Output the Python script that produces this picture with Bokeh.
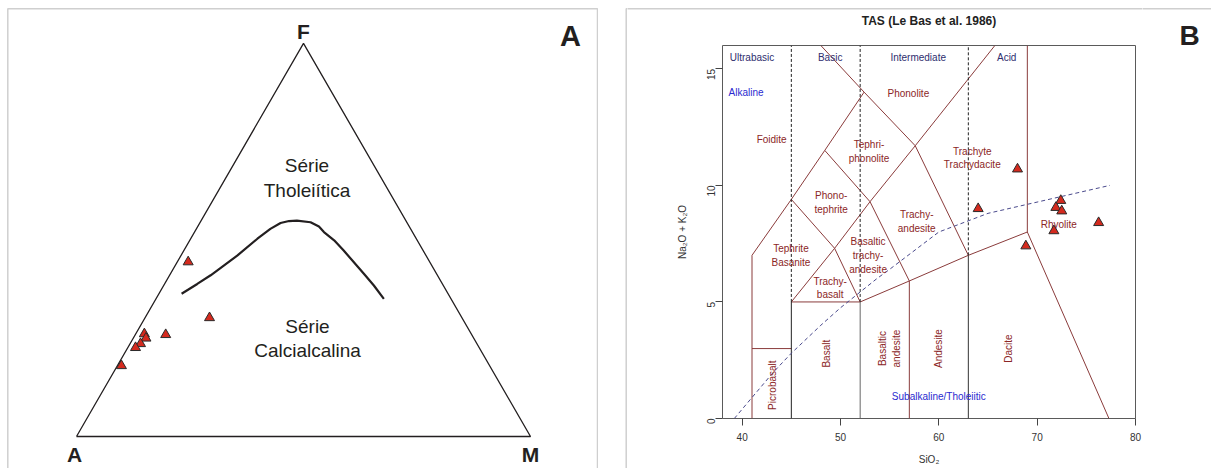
import math
from bokeh.plotting import figure
from bokeh.layouts import row, column
from bokeh.models import FixedTicker, ColumnDataSource
from bokeh.embed import file_html
from bokeh.resources import INLINE
from bokeh.core.properties import value

# ---------------- Panel A: AFM ternary data (A, F, M in %) ----------------
afm_A = [53.2, 55.6, 67.4, 72.0, 72.2, 74.1, 75.7, 81.1]
afm_F = [44.4, 30.2, 25.9, 26.1, 25.0, 23.6, 22.6, 18.0]
afm_M = [2.4, 14.2, 6.7, 1.9, 2.8, 2.3, 1.7, 0.9]

# Tholeiitic / calc-alkaline divide (F and M, A = 100 - F - M)
curve_F = [36.3, 38.8, 41.0, 46.0, 50.3, 52.8, 54.3, 54.8, 54.9, 54.5, 53.4, 52.0, 49.9, 47.3, 41.4, 38.4, 35.0]
curve_M = [5.0, 7.2, 9.05, 12.4, 14.7, 16.3, 17.8, 19.4, 21.1, 24.3, 26.7, 28.5, 31.8, 35.2, 42.6, 46.3, 50.2]

corner_names = ["A", "F", "M"]
series_names = ["Série\nTholeiítica", "Série\nCalcialcalina"]

# ---------------- Panel B: TAS data ----------------
sio2 = [68.0, 64.0, 72.4, 71.9, 72.5, 71.7, 76.25, 68.85]
alkalis = [10.7, 9.0, 9.35, 9.05, 8.9, 8.05, 8.4, 7.4]

# Le Bas et al. (1986) field boundaries (SiO2, Na2O+K2O)
tas_bound_x = [
    [41, 41, 45, 48.4, 52.4],
    [48.0, 52.4, 57.6, 63],
    [45, 49.4, 53, 57.6, 65.7],
    [45, 49.4, 52],
    [48.4, 53, 57],
    [41, 45],
    [45, 52],
    [52, 57, 63, 69, 77.3],
    [57, 57],
    [69, 69],
]
tas_bound_y = [
    [0, 7, 9.4, 11.5, 14],
    [16, 14, 11.7, 7],
    [5, 7.3, 9.3, 11.7, 16],
    [9.4, 7.3, 5],
    [11.5, 9.3, 5.9],
    [3, 3],
    [5, 5],
    [5, 5.9, 7, 8, 0],
    [0, 5.9],
    [8, 16],
]
silica_div_x = [45, 52, 63]
silica_div_low = [5, 5, 7]
silica_div_top = [16, 16, 16]
# Irvine & Baragar alkaline/subalkaline divide
ib_x = [39.2, 40, 43.2, 45, 48, 50, 53.7, 55, 60, 65, 77.4]
ib_y = [0, 0.4, 2, 2.8, 4, 4.75, 6, 6.4, 8, 8.8, 10]

tas_title = "TAS (Le Bas et al. 1986)"
field_names = ["Foidite", "Phonolite", "Tephri-\nphonolite", "Trachyte\nTrachydacite",
               "Phono-\ntephrite", "Trachy-\nandesite", "Tephrite\nBasanite",
               "Basaltic\ntrachy-\nandesite", "Trachy-\nbasalt", "Rhyolite"]
rot_field_names = ["Picrobasalt", "Basalt", "Basaltic\nandesite", "Andesite", "Dacite"]
silica_names = ["Ultrabasic", "Basic", "Intermediate", "Acid"]
alk_names = ["Alkaline", "Subalkaline/Tholeiitic"]

# label positions (layout)
field_lx = [43.0, 56.9, 52.9, 63.4, 49.05, 57.75, 44.96, 52.8, 48.95, 72.2]
field_ly = [11.95, 13.96, 11.45, 11.17, 9.26, 8.45, 6.98, 6.99, 5.6, 8.32]
rot_lx = [43.1, 48.6, 55.0, 60.0, 67.1]
rot_ly = [1.43, 2.78, 3.0, 3.0, 3.0]
silica_lx = [41.0, 48.95, 57.9, 66.9]
alk_lx = [40.4, 60.0]
alk_ly = [14.0, 0.95]

FNAME = "Liberation Sans"
FONT = value(FNAME)
DARK = "#231f20"
RED_FILL = "#d42a1e"
PANEL_BORDER = "#cfcfcf"

# ---------- page layout constants (px) ----------
W_A, H = 598, 468
W_GAP = 29
W_B = 515
W_R = 69
STRIP_H = 44
A_ORIGIN = (76.0, 436.0)   # page position of ternary corner A
A_SCALE = 4.54             # px per ternary unit
BORDER_TOP = 8.3


def tern(a, f, m):
    s = a + f + m
    return 100.0 * (m + f / 2.0) / s, 100.0 * f * math.sqrt(3) / 2.0 / s


def ux(px):
    return (px - A_ORIGIN[0]) / A_SCALE


def uy(py):
    return (A_ORIGIN[1] - py) / A_SCALE


def bare(w, h, xr, yr):
    p = figure(width=w, height=h, x_range=xr, y_range=yr, output_backend="svg",
               toolbar_location=None, min_border=0, x_axis_location=None,
               y_axis_location=None, title=None)
    p.grid.visible = False
    p.outline_line_color = None
    p.frame_align = False
    return p


# ================= Panel A =================
pA = bare(W_A, H, (ux(0), ux(W_A)), (uy(H), uy(0)))

# panel frame (left, top, right)
pA.line([ux(7.3), ux(7.3), ux(597), ux(597)], [uy(H + 20), uy(BORDER_TOP), uy(BORDER_TOP), uy(H + 20)],
        line_color=PANEL_BORDER, line_width=1.5)

corners = [tern(100, 0, 0), tern(0, 100, 0), tern(0, 0, 100)]
tri_x = [c[0] for c in corners] + [corners[0][0]]
tri_y = [c[1] for c in corners] + [corners[0][1]]
pA.line(tri_x, tri_y, line_color=DARK, line_width=1.3)

cxy = [tern(100 - f - m, f, m) for f, m in zip(curve_F, curve_M)]
pA.line([c[0] for c in cxy], [c[1] for c in cxy], line_color=DARK, line_width=2.2)

pxy = [tern(a, f, m) for a, f, m in zip(afm_A, afm_F, afm_M)]
srcA = ColumnDataSource(dict(x=[p[0] for p in pxy], y=[p[1] for p in pxy]))
pA.scatter("x", "y", source=srcA, marker="triangle", size=10, fill_color=RED_FILL,
           line_color="#2a2a2a", line_width=1)

pA.text(x=[corners[0][0] - 0.4, corners[1][0], corners[2][0]],
        y=[corners[0][1] - 4.0, corners[1][1] + 2.7, corners[2][1] - 4.0],
        text=corner_names, text_font=FONT, text_font_style="bold", text_font_size="21px",
        text_color=DARK, text_align="center", text_baseline="middle")
pA.text(x=[ux(306.5), ux(307)], y=[uy(177.5), uy(338.3)], text=series_names, text_font=FONT,
        text_font_size="19px", text_color=DARK, text_align="center", text_baseline="middle",
        text_line_height=1.15)
pA.text(x=[ux(570)], y=[uy(35)], text=["A"], text_font=FONT, text_font_style="bold",
        text_font_size="29px", text_color=DARK, text_align="center", text_baseline="middle")

# ================= gap with panel B left border =================
gap = bare(W_GAP, H, (0, W_GAP), (H, 0))
gap.line([W_GAP - 1.3, W_GAP - 1.3, W_GAP], [H + 10, BORDER_TOP, BORDER_TOP],
         line_color=PANEL_BORDER, line_width=1.5)

# ================= Panel B =================
B_LEFT, B_RIGHT, B_TOP, B_BOTTOM = 95, 7, 1, 50
frame_w = W_B - B_LEFT - B_RIGHT

strip = bare(W_B, STRIP_H, (0, W_B), (STRIP_H, 0))
strip.line([-5, W_B + 5], [BORDER_TOP, BORDER_TOP], line_color=PANEL_BORDER, line_width=1.5)
strip.text(x=[B_LEFT + frame_w / 2.0], y=[20], text=[tas_title], text_font=FONT,
           text_font_style="bold", text_font_size="12px", text_color="#222222",
           text_align="center", text_baseline="middle")

right = bare(W_R, H, (0, W_R), (H, 0))
right.line([-5, W_R + 5], [BORDER_TOP, BORDER_TOP], line_color=PANEL_BORDER, line_width=1.5)
right.text(x=[47], y=[35], text=["B"], text_font=FONT, text_font_style="bold",
           text_font_size="28px", text_color=DARK, text_align="center", text_baseline="middle")

pB = figure(width=W_B, height=H - STRIP_H, x_range=(38, 80), y_range=(0, 16),
            output_backend="svg", toolbar_location=None, title=None,
            min_border_left=B_LEFT, min_border_right=B_RIGHT,
            min_border_top=B_TOP, min_border_bottom=B_BOTTOM)
pB.grid.visible = False
pB.frame_align = False
pB.outline_line_color = "#5a5a5a"
pB.outline_line_width = 1

for ax in (pB.xaxis[0], pB.yaxis[0]):
    ax.axis_line_color = None
    ax.major_tick_in = 0
    ax.major_tick_out = 7
    ax.major_tick_line_color = "#444444"
    ax.minor_tick_line_color = None
    ax.major_label_text_font = FNAME
    ax.major_label_text_font_size = "10px"
    ax.major_label_text_color = "#333333"
    ax.axis_label_text_font = FNAME
    ax.axis_label_text_font_size = "10px"
    ax.axis_label_text_font_style = "normal"
    ax.axis_label_text_color = "#333333"
pB.xaxis.ticker = FixedTicker(ticks=[40, 50, 60, 70, 80])
pB.yaxis.ticker = FixedTicker(ticks=[0, 5, 10, 15])
pB.xaxis.axis_label = "SiO₂"
pB.yaxis.axis_label = "Na₂O + K₂O"
pB.xaxis.major_label_standoff = 7
pB.xaxis.axis_label_standoff = 10
pB.yaxis.major_label_standoff = 5
pB.yaxis.axis_label_standoff = 12
pB.yaxis.major_label_orientation = math.pi / 2

BOUND = "#8a3b3b"
pB.multi_line(tas_bound_x, tas_bound_y, line_color=BOUND, line_width=1)
pB.segment(x0=silica_div_x, y0=[0] * 3, x1=silica_div_x, y1=silica_div_low,
           line_color=["#222222", "#666666", "#333333"], line_width=1)
pB.segment(x0=silica_div_x, y0=silica_div_low, x1=silica_div_x, y1=silica_div_top,
           line_color="#222222", line_width=1, line_dash="3 2")
pB.line(ib_x, ib_y, line_color="#4a4a8c", line_width=1, line_dash="4 3")

LBL = "#8b2626"
pB.text(x=field_lx, y=field_ly, text=field_names, text_font=FONT, text_font_size="10px",
        text_color=LBL, text_align="center", text_baseline="middle", text_line_height=1.25)
pB.text(x=rot_lx, y=rot_ly, text=rot_field_names, text_font=FONT, text_font_size="10px",
        text_color=LBL, text_align="center", text_baseline="middle", text_line_height=1.25,
        angle=math.pi / 2)
pB.text(x=silica_lx, y=[15.5] * 4, text=silica_names, text_font=FONT, text_font_size="10px",
        text_color="#2e2e6e", text_align="center", text_baseline="middle")
pB.text(x=alk_lx, y=alk_ly, text=alk_names, text_font=FONT, text_font_size="10px",
        text_color="#2a2ad0", text_align="center", text_baseline="middle")

srcB = ColumnDataSource(dict(x=sio2, y=alkalis))
pB.scatter("x", "y", source=srcB, marker="triangle", size=10, fill_color=RED_FILL,
           line_color="#2a2a2a", line_width=1)

layout = row(pA, gap, column(strip, pB), right)
open("out.html", "w").write(file_html(layout, INLINE))
